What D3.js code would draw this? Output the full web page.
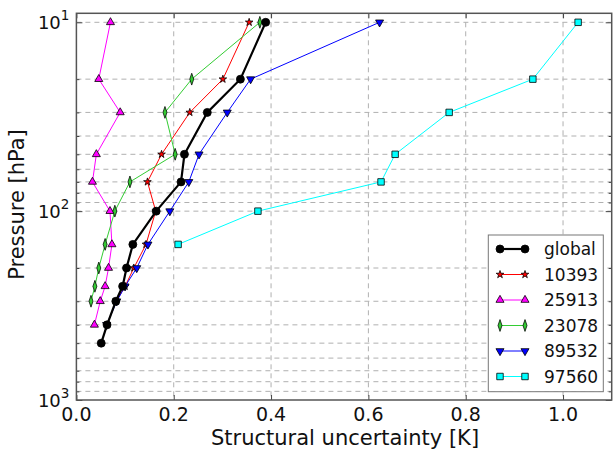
<!DOCTYPE html>
<html>
<head>
<meta charset="utf-8">
<script src="https://cdn.jsdelivr.net/npm/d3@7"></script>
<style>
  html, body { margin: 0; padding: 0; background: #fff; }
  svg { display: block; font-family: "DejaVu Sans", sans-serif; }
</style>
</head>
<body>
<svg id="chart" width="613" height="450"></svg>
<script>
// Pressure levels (hPa) shared by the profiles
const levels = [10, 20, 30, 50, 70, 100, 150, 200, 250, 300, 400, 500];

// Structural uncertainty [K] per level for each profile
const globalVals = [0.389, 0.337, 0.269, 0.222, 0.215, 0.164, 0.116, 0.103, 0.095, 0.081, 0.063, 0.051];
const s10393 = [0.355, 0.301, 0.233, 0.175, 0.146, 0.163, 0.143, 0.118, 0.100, 0.082];
const s25913 = [0.070, 0.046, 0.090, 0.041, 0.033, 0.069, 0.073, 0.066, 0.059, 0.049, 0.037];
const s23078 = [0.377, 0.237, 0.182, 0.203, 0.110, 0.079, 0.059, 0.046, 0.038, 0.030];
const s89532 = [0.623, 0.358, 0.310, 0.252, 0.231, 0.192, 0.147, 0.124, 0.100, 0.083, 0.062];
const s97560 = [1.031, 0.938, 0.766, 0.655, 0.626, 0.373, 0.209];

const seriesNames = ["global", "10393", "25913", "23078", "89532", "97560"];
const seriesValues = [globalVals, s10393, s25913, s23078, s89532, s97560];
const seriesColors = ["#000000", "#ff0000", "#ff00ff", "#33cc33", "#0000ff", "#00ffff"];
const seriesMarkers = ["circle", "star", "triangleUp", "diamond", "triangleDown", "square"];

const xTicks = [0.0, 0.2, 0.4, 0.6, 0.8, 1.0];
const yMajor = [10, 100, 1000];

const svg = d3.select("#chart");
const plot = { left: 76.4, right: 611.7, top: 13.3, bottom: 400 };

const x = d3.scaleLinear().domain([0, 1.1]).range([plot.left, plot.right]);
const y = d3.scaleLog().domain([8.96, 1000]).range([plot.top, plot.bottom]);

// minor log ticks 20..90, 200..900
const yMinor = [];
[10, 100].forEach(d => { for (let k = 2; k <= 9; k++) yMinor.push(d * k); });

const grid = svg.append("g");
const dash = "5,4";
xTicks.slice(1).forEach(v => {
  grid.append("line").attr("x1", x(v)).attr("x2", x(v))
    .attr("y1", plot.top).attr("y2", plot.bottom)
    .attr("stroke", "#b0b0b0").attr("stroke-width", 1).attr("stroke-dasharray", dash);
});
yMajor.concat(yMinor).filter(v => v < 1000).forEach(v => {
  grid.append("line").attr("x1", plot.left).attr("x2", plot.right)
    .attr("y1", y(v)).attr("y2", y(v))
    .attr("stroke", "#b0b0b0").attr("stroke-width", 1).attr("stroke-dasharray", dash);
});

// Axes with inward ticks
const axB = d3.axisBottom(x).tickValues(xTicks).tickFormat("").tickSizeInner(-5).tickSizeOuter(0);
const axT = d3.axisTop(x).tickValues(xTicks).tickFormat("").tickSizeInner(-5).tickSizeOuter(0);
const axL = d3.axisLeft(y).tickValues(yMajor).tickFormat("").tickSizeInner(-6).tickSizeOuter(0);
const axR = d3.axisRight(y).tickValues(yMajor).tickFormat("").tickSizeInner(-6).tickSizeOuter(0);
const axLm = d3.axisLeft(y).tickValues(yMinor).tickFormat("").tickSizeInner(-3).tickSizeOuter(0);
const axRm = d3.axisRight(y).tickValues(yMinor).tickFormat("").tickSizeInner(-3).tickSizeOuter(0);

function style(g) {
  g.select(".domain").remove();
  g.selectAll(".tick line").attr("stroke", "#444").attr("stroke-width", 1);
}
svg.append("g").attr("transform", `translate(0,${plot.bottom})`).call(axB).call(style);
svg.append("g").attr("transform", `translate(0,${plot.top})`).call(axT).call(style);
svg.append("g").attr("transform", `translate(${plot.left},0)`).call(axL).call(style);
svg.append("g").attr("transform", `translate(${plot.right},0)`).call(axR).call(style);
svg.append("g").attr("transform", `translate(${plot.left},0)`).call(axLm).call(style);
svg.append("g").attr("transform", `translate(${plot.right},0)`).call(axRm).call(style);

// x tick labels
xTicks.forEach(v => {
  svg.append("text").attr("x", x(v)).attr("y", 421)
    .attr("text-anchor", "middle").attr("fill", "#111").style("font-size", "19px")
    .text(d3.format(".1f")(v));
});

// y tick labels as powers of ten
yMajor.forEach(v => {
  const t = svg.append("text").attr("x", plot.left - 7).attr("y", y(v) + 7)
    .attr("text-anchor", "end").attr("fill", "#111").style("font-size", "18px");
  t.append("tspan").text("10");
  t.append("tspan").attr("dy", -9).style("font-size", "13.5px").text(Math.round(Math.log10(v)));
});

// frame
svg.append("rect").attr("x", plot.left).attr("y", plot.top)
  .attr("width", plot.right - plot.left).attr("height", plot.bottom - plot.top)
  .attr("fill", "none").attr("stroke", "#555").attr("stroke-width", 1.5);

// axis labels
svg.append("text").attr("x", (plot.left + plot.right) / 2 + 1).attr("y", 445)
  .attr("text-anchor", "middle").attr("fill", "#111").style("font-size", "21px")
  .text("Structural uncertainty [K]");
svg.append("text").attr("transform", `translate(23.5,${(129 + 280) / 2}) rotate(-90)`)
  .attr("text-anchor", "middle").attr("fill", "#111").style("font-size", "21px")
  .text("Pressure [hPa]");

const symbolFor = {
  circle: d3.symbol().type(d3.symbolCircle).size(50),
  star: d3.symbol().type(d3.symbolStar).size(18),
  triangleUp: d3.symbol().type(d3.symbolTriangle).size(28),
  triangleDown: d3.symbol().type(d3.symbolTriangle).size(28),
  diamond: d3.symbol().type(d3.symbolDiamond).size(28),
  square: d3.symbol().type(d3.symbolSquare).size(42)
};
function markerTransform(kind, px, py) {
  if (kind === "triangleDown") return `translate(${px},${py}) rotate(180)`;
  if (kind === "diamond") return `translate(${px},${py}) scale(0.7,1.2)`;
  return `translate(${px},${py})`;
}

const line = d3.line().x(d => x(d[0])).y(d => y(d[1]));

// draw the global profile last so it sits on top
const order = [1, 2, 3, 4, 5, 0];
order.forEach(i => {
  const pts = seriesValues[i].map((v, j) => [v, levels[j]]);
  const g = svg.append("g");
  g.append("path").datum(pts).attr("d", line).attr("fill", "none")
    .attr("stroke", seriesColors[i]).attr("stroke-width", i === 0 ? 2.2 : 1);
  g.selectAll("path.m").data(pts).enter().append("path").attr("class", "m")
    .attr("d", symbolFor[seriesMarkers[i]]())
    .attr("transform", d => markerTransform(seriesMarkers[i], x(d[0]), y(d[1])))
    .attr("fill", seriesColors[i]).attr("stroke", "#000").attr("stroke-width", 0.8);
});

// legend
const lg = svg.append("g");
lg.append("rect").attr("x", 488.3).attr("y", 235).attr("width", 115).attr("height", 156.7)
  .attr("fill", "#fff").attr("stroke", "#777").attr("stroke-width", 1);
seriesNames.forEach((name, i) => {
  const ly = 249 + i * 25.5;
  lg.append("line").attr("x1", 500).attr("x2", 525).attr("y1", ly).attr("y2", ly)
    .attr("stroke", seriesColors[i]).attr("stroke-width", i === 0 ? 2.2 : 1);
  [500, 525].forEach(lx => {
    lg.append("path").attr("d", symbolFor[seriesMarkers[i]]())
      .attr("transform", markerTransform(seriesMarkers[i], lx, ly))
      .attr("fill", seriesColors[i]).attr("stroke", "#000").attr("stroke-width", 0.8);
  });
  lg.append("text").attr("x", 544).attr("y", ly + 6).attr("fill", "#111")
    .style("font-size", "17px").text(name);
});
</script>
</body>
</html>
